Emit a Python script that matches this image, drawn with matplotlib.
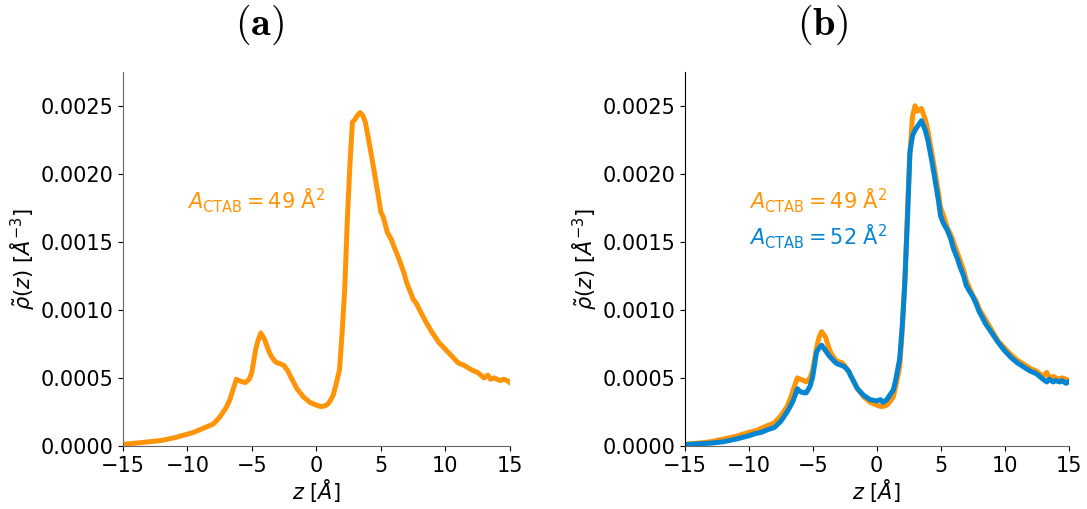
import matplotlib
matplotlib.use("Agg")
import matplotlib.pyplot as plt

# density profiles
z_a = [-15, -14, -13, -12, -11, -10, -9.5, -9, -8.5, -8, -7.5, -7, -6.7, -6.5, -6.2, -6, -5.7, -5.5, -5.2,
       -5, -4.7, -4.5, -4.3, -4, -3.7, -3.5, -3.2, -3, -2.7, -2.5, -2.2, -2, -1.5, -1, -0.5, 0, 0.3, 0.5,
       0.8, 1, 1.3, 1.5, 1.8, 2, 2.2, 2.4, 2.6, 2.8, 3, 3.2, 3.4, 3.6, 3.8, 4, 4.3, 4.5, 4.8, 5, 5.2, 5.5,
       5.8, 6, 6.3, 6.5, 6.8, 7, 7.3, 7.5, 7.8, 8, 8.5, 9, 9.5, 10, 10.5, 11, 11.5, 12, 12.5, 13, 13.3,
       13.5, 13.8, 14, 14.3, 14.5, 14.8, 15]
rho_a = [0.000012, 0.00002, 0.00003, 0.00004, 0.00006, 0.000086, 0.0001, 0.00012, 0.00014, 0.00016,
         0.00021, 0.00028, 0.00034, 0.0004, 0.00049, 0.00048, 0.00047, 0.000466, 0.00049,
         0.00054, 0.00071, 0.00078, 0.00083, 0.00078, 0.00070, 0.00066, 0.00062, 0.00061, 0.00060, 0.00059,
         0.00055, 0.00051, 0.00042, 0.00036, 0.00032, 0.00030, 0.00029, 0.00029,
         0.00030, 0.00032, 0.00037, 0.00044, 0.00056, 0.00083, 0.00115, 0.00165, 0.00206, 0.00238, 0.00240,
         0.00243, 0.00245, 0.00243, 0.00238, 0.00228, 0.00212, 0.00201, 0.00184, 0.00172, 0.00168, 0.00157,
         0.00152, 0.00147, 0.00140, 0.00135, 0.00127, 0.00120, 0.00113, 0.00108, 0.00104, 0.00100,
         0.00091, 0.00083, 0.00076, 0.00071, 0.00066, 0.00061, 0.00059, 0.00056, 0.00054, 0.00050, 0.00052,
         0.00049, 0.00050, 0.00049, 0.00048, 0.00049, 0.00048, 0.000466]

z_b = [-15, -14, -13, -12, -11, -10, -9.5, -9, -8.5, -8, -7.5, -7, -6.7, -6.5, -6.2, -6, -5.7, -5.5, -5.2,
       -5, -4.7, -4.5, -4.3, -4, -3.7, -3.5, -3.2, -3, -2.7, -2.5, -2.2, -2, -1.5, -1, -0.5, 0, 0.3, 0.5,
       0.8, 1, 1.3, 1.5, 1.8, 2, 2.2, 2.4, 2.6, 2.8, 3, 3.2, 3.5, 3.8, 4, 4.3, 4.5, 4.8, 5, 5.2, 5.5,
       5.8, 6, 6.3, 6.5, 6.8, 7, 7.3, 7.5, 7.8, 8, 8.5, 9, 9.5, 10, 10.5, 11, 11.5, 12, 12.5, 13, 13.3,
       13.5, 13.8, 14, 14.3, 14.5, 14.8, 15]
rho_b_49 = [0.000012, 0.00002, 0.00003, 0.00005, 0.00007, 0.0001, 0.00011, 0.00013, 0.00015, 0.00017,
            0.00022, 0.00029, 0.00036, 0.00042, 0.0005, 0.00049, 0.00048, 0.00047, 0.0005,
            0.00056, 0.00072, 0.00080, 0.00084, 0.00080, 0.00071, 0.00067, 0.00063, 0.00062, 0.00061, 0.00059,
            0.00055, 0.00051, 0.00042, 0.00036, 0.00032, 0.00030, 0.00029, 0.00029,
            0.00030, 0.00032, 0.00036, 0.00044, 0.00058, 0.00085, 0.0012, 0.0017, 0.00215, 0.00242, 0.0025,
            0.00246, 0.00248, 0.0024, 0.00232, 0.00216, 0.00205, 0.00188, 0.00175, 0.0017, 0.00161,
            0.00155, 0.0015, 0.00142, 0.00137, 0.00129, 0.00122, 0.00115, 0.00111, 0.00106, 0.00101,
            0.00093, 0.00085, 0.00077, 0.00072, 0.00067, 0.00063, 0.0006, 0.00057, 0.00055, 0.00051, 0.00054,
            0.0005, 0.00051, 0.0005, 0.00049, 0.0005, 0.00049, 0.00048]
rho_b_52 = [0.00001, 0.000015, 0.00002, 0.00003, 0.00005, 0.000074, 0.00009, 0.0001, 0.00012, 0.000135,
            0.00018, 0.00025, 0.0003, 0.00034, 0.00042, 0.0004, 0.00039, 0.00039, 0.00044,
            0.00051, 0.00069, 0.00072, 0.00074, 0.0007, 0.00066, 0.00064, 0.00061, 0.0006, 0.00059, 0.00058,
            0.00055, 0.00051, 0.00042, 0.00037, 0.00034, 0.00033, 0.00034, 0.00032,
            0.00034, 0.00037, 0.00041, 0.00049, 0.00064, 0.00088, 0.0012, 0.00165, 0.00216, 0.00228, 0.00232,
            0.00235, 0.00239, 0.00232, 0.00225, 0.0021, 0.00199, 0.00182, 0.00169, 0.00164, 0.00159,
            0.00152, 0.00145, 0.00138, 0.00132, 0.00125, 0.00118, 0.00113, 0.0011, 0.00104, 0.00099,
            0.0009, 0.00083, 0.00076, 0.0007, 0.00065, 0.00061, 0.00058, 0.00055, 0.00053, 0.00049, 0.00047,
            0.00049, 0.00047, 0.00048, 0.00047, 0.00048, 0.00046, 0.00047]

orange = '#ff9408'
blue = '#0485d1'

plt.rcParams['font.size'] = 15

fig = plt.figure(figsize=(10.87, 5.09), dpi=100)
ax_a = fig.add_axes([0.113, 0.124, 0.356, 0.735])
ax_b = fig.add_axes([0.630, 0.124, 0.353, 0.735])

ax_a.plot(z_a, rho_a, color=orange, lw=3.6)
ax_a.text(-10, 0.0018, r'$A_{\mathrm{CTAB}} = 49$ Å$^2$', color=orange, fontsize=15, va='center')

ax_b.plot(z_b, rho_b_49, color=orange, lw=3.6)
ax_b.plot(z_b, rho_b_52, color=blue, lw=3.6)
ax_b.text(-10, 0.0018, r'$A_{\mathrm{CTAB}} = 49$ Å$^2$', color=orange, fontsize=15, va='center')
ax_b.text(-10, 0.00154, r'$A_{\mathrm{CTAB}} = 52$ Å$^2$', color=blue, fontsize=15, va='center')

for ax in (ax_a, ax_b):
    ax.set_xlim(-15, 15)
    ax.set_ylim(0, 0.00275)
    ax.set_xticks([-15, -10, -5, 0, 5, 10, 15])
    ax.set_yticks([0, 0.0005, 0.001, 0.0015, 0.002, 0.0025])
    ax.set_yticklabels(['0.0000', '0.0005', '0.0010', '0.0015', '0.0020', '0.0025'])
    ax.spines['top'].set_visible(False)
    ax.spines['right'].set_visible(False)
    ax.spines['bottom'].set_color('#666666')
    ax.tick_params(length=3.5)
    ax.set_xlabel(r'$z$ [$\AA$]', fontsize=15, labelpad=1)
    ax.set_ylabel(r'$\tilde{\rho}(z)$ [$\AA^{-3}$]', fontsize=15, labelpad=2)
ax_a.spines['left'].set_color('#666666')

fig.text(0.239, 0.951, r'$\mathbf{(a)}$', fontsize=29, ha='center', va='center', math_fontfamily='cm')
fig.text(0.757, 0.951, r'$\mathbf{(b)}$', fontsize=29, ha='center', va='center', math_fontfamily='cm')

fig.savefig('out.png', dpi=100)
